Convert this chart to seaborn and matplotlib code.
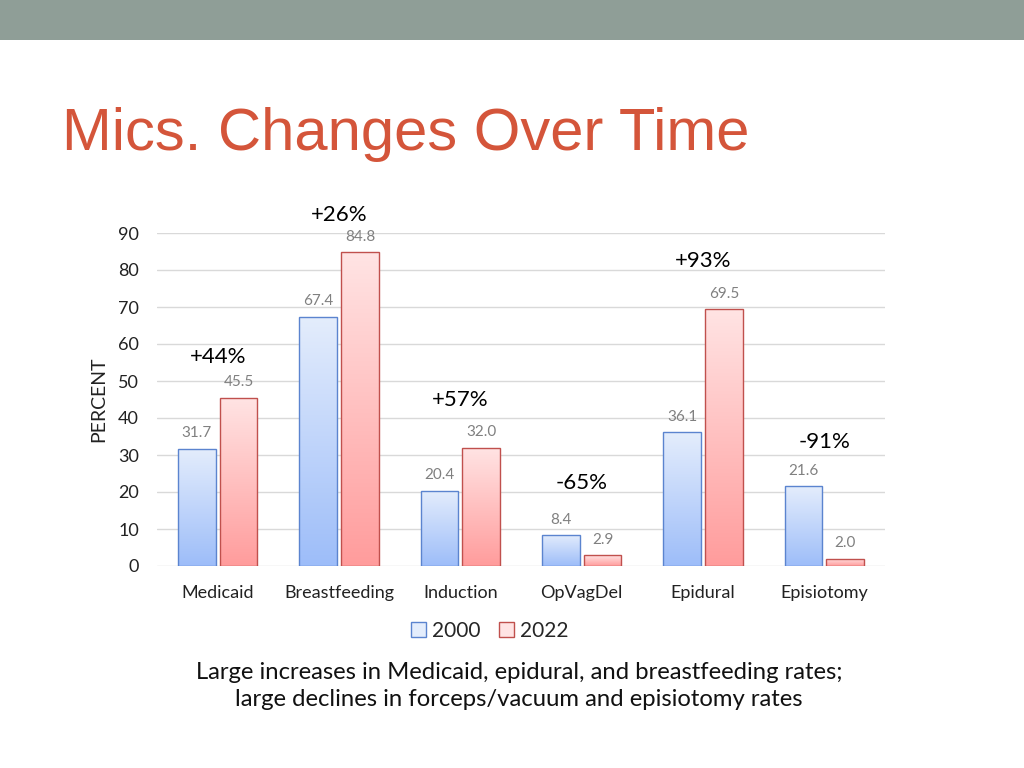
import numpy as np
import pandas as pd
import seaborn as sns
import matplotlib.pyplot as plt
from matplotlib.patches import Patch, Rectangle
from matplotlib.colors import LinearSegmentedColormap

# data
categories = ['Medicaid', 'Breastfeeding', 'Induction', 'OpVagDel', 'Epidural', 'Episiotomy']
years = ['2000', '2022']
values_2000 = [31.7, 67.4, 20.4, 8.4, 36.1, 21.6]
values_2022 = [45.5, 84.8, 32.0, 2.9, 69.5, 2.0]
changes = ['+44%', '+26%', '+57%', '-65%', '+93%', '-91%']
change_offset = [11, 10, 13, 14, 13, 12]
y_ticks = [0, 10, 20, 30, 40, 50, 60, 70, 80, 90]

df = pd.DataFrame({
    'category': categories * 2,
    'year': [years[0]] * len(categories) + [years[1]] * len(categories),
    'value': values_2000 + values_2022,
})

# colours: (bottom, top, edge)
styles = {
    '2000': ('#9DBDF9', '#E4EDFC', '#5B84CF'),
    '2022': ('#FF9C9C', '#FFE4E4', '#C0504D'),
}

sns.set_style('white')
plt.rcParams['font.family'] = ['Lato', 'DejaVu Sans']

fig = plt.figure(figsize=(10.24, 7.68), dpi=100)

# grey band at top of the slide
fig.patches.append(Rectangle((0, 1 - 40 / 768), 1, 40 / 768, transform=fig.transFigure,
                             facecolor='#8F9E97', edgecolor='none', zorder=0))
fig.text(62 / 1024, 1 - 150 / 768, 'Mics. Changes Over Time', fontsize=43,
         color='#D4553A', family=['Liberation Sans'], va='baseline', ha='left')

ax = fig.add_axes([157 / 1024, 1 - 566 / 768, 728 / 1024, 333 / 768])
sns.barplot(data=df, x='category', y='value', hue='year', order=categories,
            hue_order=years, palette={y: styles[y][1] for y in years},
            width=0.69, gap=0.1, legend=False, ax=ax, zorder=3)

# gradient fill inside each bar
grad = np.linspace(0, 1, 256).reshape(-1, 1)
for cont, year in zip(ax.containers, years):
    bottom, top, edge = styles[year]
    cmap = LinearSegmentedColormap.from_list('g' + year, [bottom, top])
    for bar in cont:
        x0, w, h = bar.get_x(), bar.get_width(), bar.get_height()
        im = ax.imshow(grad, extent=[x0, x0 + w, 0, h], origin='lower', cmap=cmap,
                       aspect='auto', zorder=2, interpolation='bilinear')
        im.set_clip_path(bar)
        bar.set_facecolor('none')
        bar.set_edgecolor(edge)
        bar.set_linewidth(1)
    ax.bar_label(cont, fmt='%.1f', padding=6, color='#808080', fontsize=11)

ax.set_xlim(-0.5, len(categories) - 0.5)
ax.set_ylim(0, 90)
ax.set_yticks(y_ticks)
ax.grid(axis='y', color='#D9D9D9', linewidth=1, zorder=0)
ax.set_axisbelow(True)
sns.despine(ax=ax, left=True, bottom=True)
ax.tick_params(axis='both', length=0, labelsize=13, colors='#222222')
ax.tick_params(axis='x', pad=14)
ax.tick_params(axis='y', pad=13)
ax.set_xlabel('')
ax.set_ylabel('PERCENT', fontsize=14, color='#222222', labelpad=8)

# percent change labels above each pair
for i, (txt, off) in enumerate(zip(changes, change_offset)):
    top_val = max(values_2000[i], values_2022[i])
    ax.text(i, top_val + off, txt, ha='center', va='center', fontsize=16,
            color='black', clip_on=False)

handles = [Patch(facecolor=styles[y][1], edgecolor=styles[y][2], label=y) for y in years]
fig.legend(handles=handles, loc='center', bbox_to_anchor=(490 / 1024, 1 - 631 / 768),
           ncol=2, frameon=False, fontsize=15, handlelength=0.7, handleheight=0.7,
           handletextpad=0.3, columnspacing=0.9)

fig.text(519 / 1024, 1 - 686 / 768,
         'Large increases in Medicaid, epidural, and breastfeeding rates;\n'
         'large declines in forceps/vacuum and episiotomy rates',
         ha='center', va='center', fontsize=17.2, linespacing=1.35, color='#111111')

fig.savefig('out.png', dpi=100)
